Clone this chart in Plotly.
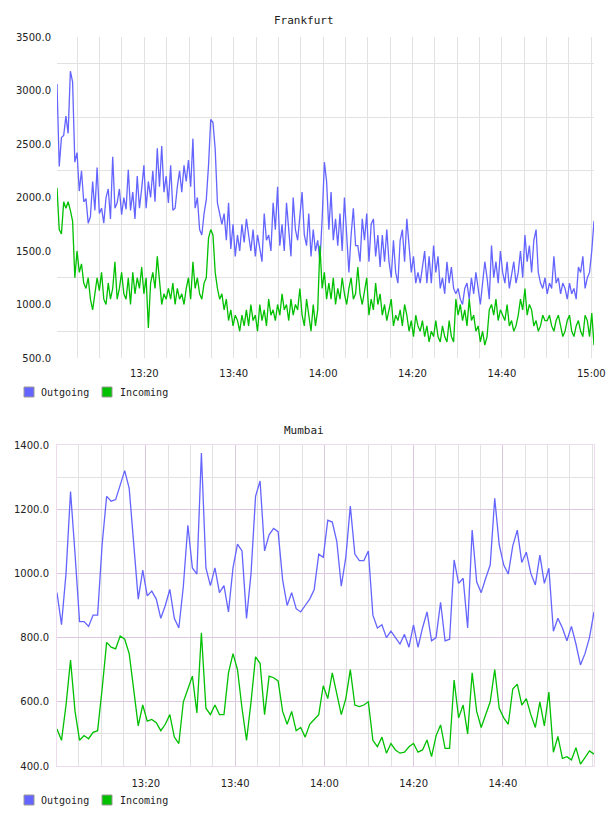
import plotly.graph_objects as go
import pandas as pd

# ---------------- data ----------------
series_names = ["Outgoing", "Incoming"]
titles = ["Frankfurt", "Mumbai"]

fra_start, fra_end = "2024-01-01 13:00:28", "2024-01-01 15:00:36"
mum_start, mum_end = "2024-01-01 13:00:06", "2024-01-01 15:00:25"

fra_out = [
    3060, 2290, 2560, 2580, 2760, 2600, 3180, 3080, 2330,
    2420, 2060, 2250, 1960, 1990, 1760, 1820, 2150, 1880,
    2280, 1850, 1900, 1760, 2000, 2080, 1800, 2380, 1900,
    1950, 2080, 1840, 2000, 1890, 2260, 1880, 2050, 1800,
    2200, 1900, 2080, 2300, 1900, 2150, 2000, 2250, 1960,
    2460, 2100, 2480, 2050, 2200, 1950, 2300, 1880, 1900,
    2100, 2250, 2050, 2300, 2150, 2350, 2100, 2550, 1900,
    2000, 1700, 1650, 1850, 1980, 2300, 2730, 2700, 2450,
    1950, 1850, 1750, 1850, 1600, 1950, 1520, 1750, 1450,
    1650, 1500, 1750, 1580, 1800, 1650, 1500, 1700, 1450,
    1650, 1500, 1400, 1850, 1600, 1650, 1500, 1950, 1700,
    2100, 1550, 1750, 1500, 1950, 1650, 1450, 2000, 1700,
    1600, 1850, 2050, 1650, 1550, 1850, 1450, 1700, 1500,
    1600, 1400, 1800, 2330, 2150, 1700, 2050, 1600, 1800,
    1550, 1850, 1500, 2000, 1600, 1300, 1650, 1900, 1550,
    1550, 1400, 1800, 1600, 1850, 1400, 1750, 1800, 1450,
    1650, 1350, 1650, 1400, 1700, 1400, 1250, 1600, 1300,
    1200, 1600, 1700, 1400, 1800, 1550, 1300, 1450, 1200,
    1300, 1200, 1350, 1500, 1200, 1450, 1200, 1550, 1300,
    1450, 1150, 1250, 1100, 1400, 1200, 1350, 1150, 1100,
    1150, 1050, 1000, 1150, 1200, 1050, 1250, 1100, 1300,
    1150, 1000, 1200, 1400, 1250, 1050, 1550, 1250, 1400,
    1200, 1500, 1300, 1200, 1400, 1150, 1300, 1400, 1200,
    1300, 1500, 1250, 1650, 1400, 1550, 1300, 1600, 1700,
    1300, 1200, 1150, 1250, 1100, 1200, 1150, 1450, 1200,
    1250, 1100, 1200, 1150, 1050, 1200, 1100, 1150, 1050,
    1350, 1300, 1450, 1150, 1250, 1300, 1500, 1780,
]

fra_in = [
    2090, 1700, 1660, 1960, 1900, 1960, 1880, 1780, 1250,
    1500, 1300, 1380, 1200, 1150, 1250, 1050, 950, 1100,
    1250, 1130, 1300, 1050, 1000, 1200, 1050, 1150, 1400,
    1050, 1150, 1300, 1100, 1050, 1250, 1000, 1300, 1100,
    1250, 1150, 1350, 1100, 1250, 780, 1200, 1300, 1150,
    1450, 1200, 1000, 1100, 1050, 1150, 1050, 1200, 1000,
    1150, 1050, 1100, 1000, 1150, 1250, 1050, 1400, 1150,
    1250, 1100, 1050, 1200, 1250, 1620, 1700, 1650, 1300,
    1150, 1050, 1100, 950, 1050, 850, 950, 800, 900,
    850, 750, 900, 800, 950, 800, 1000, 850, 900,
    750, 1000, 850, 950, 800, 1050, 900, 950, 850,
    1000, 900, 1100, 950, 1000, 850, 1050, 900, 1000,
    950, 1150, 900, 800, 1050, 900, 750, 1000, 800,
    950, 1550, 1150, 1300, 1050, 1200, 1050, 1250, 1000,
    1150, 1050, 1250, 1100, 1000, 1150, 1250, 1050, 1100,
    1350, 1100, 1000, 1150, 1250, 900, 1050, 950, 1200,
    1000, 1100, 900, 1000, 850, 950, 1050, 800, 900,
    850, 950, 800, 1000, 900, 750, 850, 700, 900,
    800, 750, 850, 700, 800, 650, 750, 700, 850,
    700, 650, 800, 700, 650, 850, 700, 650, 1050,
    900, 1000, 850, 950, 800, 1050, 850, 900, 750,
    800, 650, 750, 620, 700, 950, 1000, 900, 1050,
    850, 950, 900, 850, 1000, 800, 850, 750, 800,
    900, 1050, 950, 1150, 900, 1000, 950, 800, 850,
    750, 800, 900, 850, 850, 900, 800, 750, 850,
    900, 800, 700, 750, 850, 900, 750, 700, 800,
    850, 750, 700, 900, 850, 700, 920, 620,
]

mum_out = [
    940, 840, 1000, 1255, 1060, 850, 850, 835, 870, 870,
    1090, 1240, 1225, 1230, 1275, 1320, 1265, 1100, 920, 1010,
    930, 945, 920, 860, 900, 950, 860, 830, 960, 1150,
    1017, 998, 1375, 1017, 962, 1017, 940, 962, 880, 1017,
    1091, 1070, 860, 1000, 1240, 1288, 1070, 1120, 1140, 1130,
    980, 900, 940, 890, 880, 900, 920, 950, 1060, 1050,
    1166, 1160, 1100, 960, 1050, 1210, 1060, 1040, 1040, 1070,
    870, 830, 840, 800, 820, 800, 780, 810, 770, 840,
    770, 830, 880, 790, 800, 910, 790, 795, 1042, 969,
    985, 830, 1135, 974, 940, 985, 1026, 1234, 1089, 1026,
    998, 1086, 1135, 1034, 1066, 1000, 964, 1057, 969, 1016,
    820, 860, 830, 790, 835, 780, 715, 750, 800, 880,
]

mum_in = [
    515, 480, 590, 730, 570, 480, 495, 485, 505, 510,
    640, 785, 770, 765, 805, 795, 750, 640, 525, 590,
    540, 545, 535, 510, 530, 560, 490, 470, 600, 640,
    680, 565, 815, 580, 560, 590, 560, 560, 690, 750,
    700, 580, 480, 600, 740, 720, 560, 680, 675, 665,
    570, 530, 570, 510, 520, 490, 530, 545, 560, 650,
    610, 690, 625, 560, 610, 700, 590, 585, 590, 600,
    480, 460, 490, 440, 470, 450, 440, 443, 460, 470,
    443, 450, 481, 429, 494, 528, 455, 455, 668, 550,
    590, 500, 690, 570, 520, 560, 600, 700, 580, 550,
    530, 640, 655, 590, 610, 560, 520, 600, 525, 630,
    443, 492, 424, 429, 419, 457, 406, 426, 447, 437,
]

mum_ticks = ["2024-01-01 13:20", "2024-01-01 13:40", "2024-01-01 14:00",
             "2024-01-01 14:20", "2024-01-01 14:40"]

# ---------------- style ----------------
BLUE = "#6464ff"
GREEN = "#00c000"
GRID = "#e2e2e2"
MAJOR = "#dcc8de"
BORDER = "#eedcee"
TXT = "#222222"
MONO = "DejaVu Sans Mono"
SANS = "DejaVu Sans"
COLORS = [BLUE, GREEN]

# page geometry (pixels) -> paper coordinates
L, R, T, B, W, H = 57, 14, 37, 50, 608, 816
PW, PH = W - L - R, H - T - B
def px(xp):
    return (xp - L) / PW
def py(yp):
    return (H - B - yp) / PH

def times(start, end, vals):
    return pd.date_range(start, end, periods=len(vals))

fig = go.Figure()

fig.add_trace(go.Scatter(x=times(fra_start, fra_end, fra_out), y=fra_out, mode="lines",
                         line=dict(color=BLUE, width=1.3), name=series_names[0],
                         showlegend=False, xaxis="x", yaxis="y"))
fig.add_trace(go.Scatter(x=times(fra_start, fra_end, fra_in), y=fra_in, mode="lines",
                         line=dict(color=GREEN, width=1.3), name=series_names[1],
                         showlegend=False, xaxis="x", yaxis="y"))
fig.add_trace(go.Scatter(x=times(mum_start, mum_end, mum_out), y=mum_out, mode="lines",
                         line=dict(color=BLUE, width=1.3), name=series_names[0],
                         showlegend=False, xaxis="x2", yaxis="y2"))
fig.add_trace(go.Scatter(x=times(mum_start, mum_end, mum_in), y=mum_in, mode="lines",
                         line=dict(color=GREEN, width=1.3), name=series_names[1],
                         showlegend=False, xaxis="x2", yaxis="y2"))

# legend swatches and labels (one row under each panel)
shapes, annotations = [], []
for row_y in (392, 800):
    for (sx, tx), nm, col in zip(((29, 39), (107, 118)), series_names, COLORS):
        shapes.append(dict(type="rect", xref="paper", yref="paper",
                           x0=px(sx - 5), x1=px(sx + 5), y0=py(row_y + 5), y1=py(row_y - 5),
                           fillcolor=col, line=dict(color="#9a9a9a", width=1)))
        annotations.append(dict(text=nm, xref="paper", yref="paper", x=px(tx), y=py(row_y),
                                xanchor="left", yanchor="middle", showarrow=False,
                                font=dict(family=MONO, size=10, color=TXT)))

for title, ty in zip(titles, (20, 430)):
    annotations.append(dict(text=title, xref="paper", yref="paper", x=px(304), y=py(ty),
                            xanchor="center", yanchor="middle", showarrow=False,
                            font=dict(family=MONO, size=11, color=TXT)))

tickfont = dict(family=SANS, size=10, color=TXT)

fig.update_layout(
    width=W, height=H, showlegend=False,
    margin=dict(l=L, r=R, t=T, b=B, autoexpand=False),
    paper_bgcolor="white", plot_bgcolor="white",
    xaxis=dict(domain=[0, 1], anchor="y", type="date", range=[fra_start, fra_end],
               tickmode="linear", tick0="2024-01-01 13:00", dtick=20 * 60 * 1000,
               tickformat="%H:%M", showgrid=True, gridcolor=GRID, gridwidth=1,
               minor=dict(tickmode="linear", tick0="2024-01-01 13:00", dtick=5 * 60 * 1000,
                          showgrid=True, gridcolor=GRID, gridwidth=1),
               showline=False, zeroline=False, ticks="", tickfont=tickfont,
               ticklabelstandoff=8, automargin=False),
    yaxis=dict(domain=[py(358), 1], anchor="x", range=[500, 3500],
               tickmode="linear", tick0=500, dtick=500, tickformat=".1f",
               showgrid=False,
               minor=dict(tickmode="linear", tick0=500, dtick=250, showgrid=True,
                          gridcolor=GRID, gridwidth=1),
               showline=False, zeroline=False, ticks="", tickfont=tickfont,
               ticklabelstandoff=5, automargin=False),
    xaxis2=dict(domain=[0, 1], anchor="y2", type="date", range=[mum_start, mum_end],
                tickmode="array", tickvals=mum_ticks,
                tickformat="%H:%M", showgrid=True, gridcolor=MAJOR, gridwidth=1,
                minor=dict(tickmode="linear", tick0="2024-01-01 13:00", dtick=5 * 60 * 1000,
                           showgrid=True, gridcolor=GRID, gridwidth=1),
                showline=True, mirror=True, linecolor=BORDER, linewidth=1,
                zeroline=False, ticks="", tickfont=tickfont, ticklabelstandoff=8,
                automargin=False),
    yaxis2=dict(domain=[0, py(445)], anchor="x2", range=[400, 1400],
                tickmode="linear", tick0=400, dtick=200, tickformat=".1f",
                showgrid=True, gridcolor=MAJOR, gridwidth=1,
                minor=dict(tickmode="linear", tick0=400, dtick=100, showgrid=True,
                           gridcolor=GRID, gridwidth=1),
                showline=True, mirror=True, linecolor=BORDER, linewidth=1,
                zeroline=False, ticks="", tickfont=tickfont, ticklabelstandoff=5,
                automargin=False),
    shapes=shapes,
    annotations=annotations,
)

fig.write_html("out.html")
